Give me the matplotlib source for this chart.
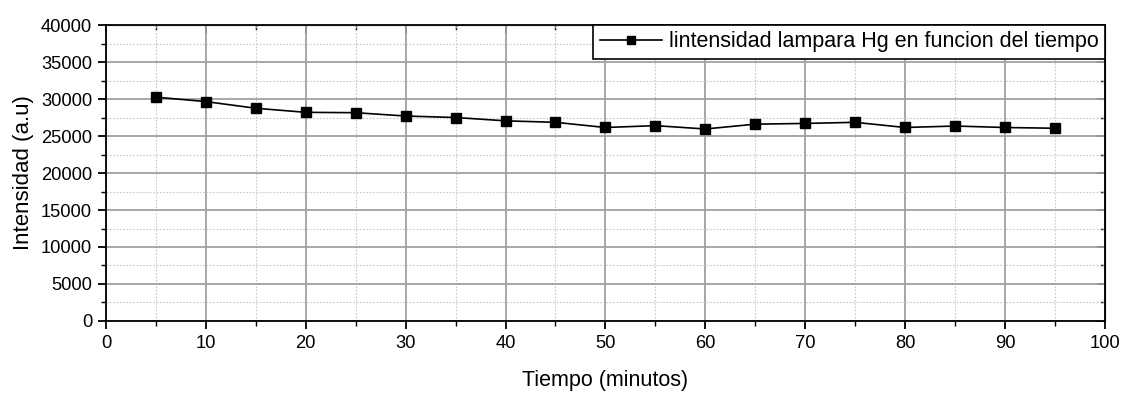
import matplotlib
matplotlib.use("Agg")
import matplotlib.pyplot as plt
from matplotlib.ticker import MultipleLocator

plt.rcParams['font.family'] = ['Liberation Sans', 'DejaVu Sans']

tiempo = [5, 10, 15, 20, 25, 30, 35, 40, 45, 50, 55, 60, 65, 70, 75, 80, 85, 90, 95]
intensidad = [30250, 29650, 28750, 28200, 28150, 27700, 27500, 27050, 26850, 26150,
              26400, 25950, 26600, 26700, 26850, 26150, 26350, 26150, 26050]
serie_label = "lintensidad lampara Hg en funcion del tiempo"

fig = plt.figure(figsize=(11.24, 3.94), dpi=100)
ax = fig.add_axes([0.0943, 0.1853, 0.8887, 0.7512])

ax.plot(tiempo, intensidad, color='black', lw=1.2, marker='s', ms=7.5,
        mfc='black', mec='black', label=serie_label, zorder=3)

ax.set_xlim(0, 100)
ax.set_ylim(0, 40000)
ax.xaxis.set_major_locator(MultipleLocator(10))
ax.xaxis.set_minor_locator(MultipleLocator(5))
ax.yaxis.set_major_locator(MultipleLocator(5000))
ax.yaxis.set_minor_locator(MultipleLocator(2500))

ax.grid(which='major', color='#a0a0a0', lw=1.3, ls='-', zorder=0)
ax.grid(which='minor', color='#c8c8c8', lw=0.8, ls=(0, (1.5, 1.5)), zorder=0)
ax.set_axisbelow(True)

for side in ax.spines.values():
    side.set_linewidth(1.3)
    side.set_color('black')

ax.tick_params(which='major', direction='out', length=6, width=1.3,
               labelsize=13.2, top=False, right=False, pad=4)
ax.tick_params(which='minor', direction='out', length=3.5, width=1.0,
               top=False, right=False)

# inward ticks along the top and right edges
axt = ax.secondary_xaxis('top')
axt.xaxis.set_major_locator(MultipleLocator(10))
axt.xaxis.set_minor_locator(MultipleLocator(5))
axt.tick_params(which='major', direction='in', length=6, width=1.3, labeltop=False)
axt.tick_params(which='minor', direction='in', length=3.5, width=1.0)
axr = ax.secondary_yaxis('right')
axr.yaxis.set_major_locator(MultipleLocator(5000))
axr.yaxis.set_minor_locator(MultipleLocator(2500))
axr.tick_params(which='major', direction='in', length=6, width=1.3, labelright=False)
axr.tick_params(which='minor', direction='in', length=3.5, width=1.0)

ax.set_xlabel("Tiempo (minutos)", fontsize=15.5, labelpad=13)
ax.set_ylabel("Intensidad (a.u)", fontsize=16, labelpad=5)

leg = ax.legend(loc='upper right', bbox_to_anchor=(1.0, 1.0), fontsize=15.5,
                frameon=True, fancybox=False, framealpha=1, edgecolor='black',
                borderpad=0.3, handlelength=2.9, handletextpad=0.3,
                borderaxespad=0.0, markerscale=0.7)
leg.get_frame().set_linewidth(1.2)

fig.savefig("out.png", dpi=100)
